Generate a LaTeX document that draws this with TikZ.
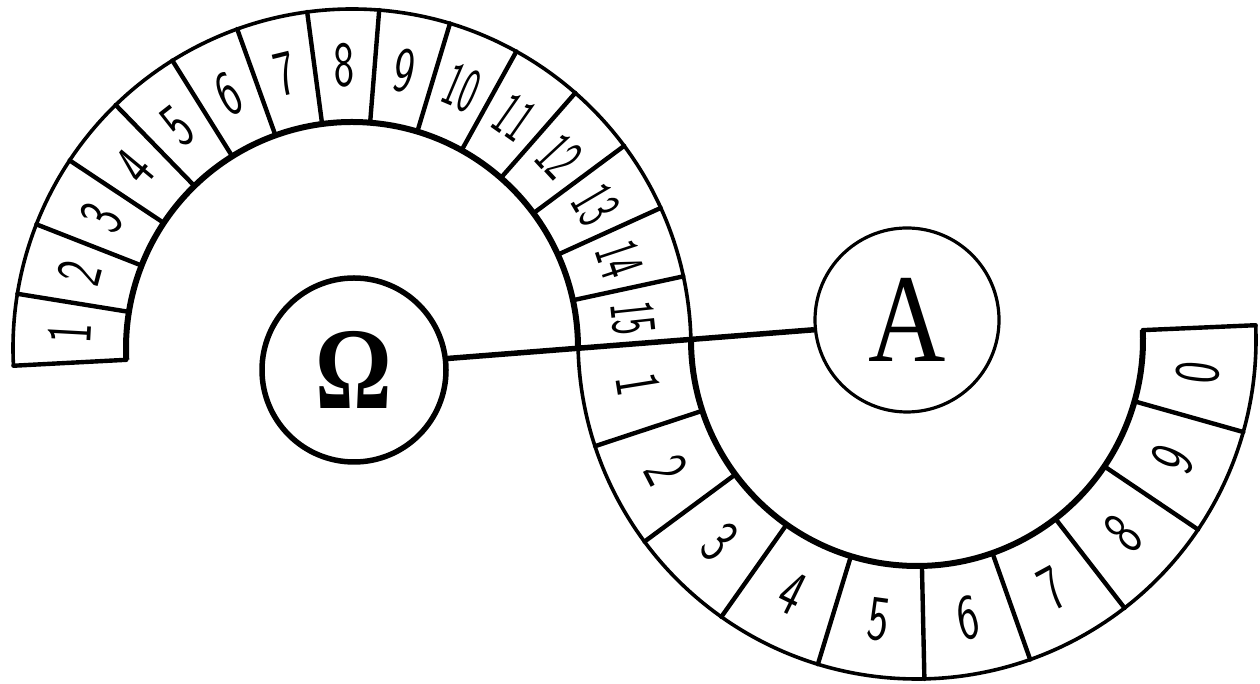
\documentclass[tikz,border=0pt]{standalone}
\usepackage{fontspec}
\newfontfamily\bigserif{Liberation Serif}
\begin{document}
\begin{tikzpicture}[x=1pt,y=1pt,
  outerline/.style={line width=3.6pt},
  innerline/.style={line width=6pt},
  divider/.style={line width=4.4pt, line cap=round},
  digit/.style={font=\sffamily\fontsize{64}{64}\selectfont, inner sep=0pt},
  disc/.style={draw, circle, minimum size=184pt, inner sep=0pt},
  link/.style={line width=5.5pt}
]
\useasboundingbox (0,0) rectangle (1260,684);
\coordinate (U) at (352,336);
\coordinate (L) at (917,344);
% ---------- upper band (1..15)
\draw[outerline] (U) ++(0:339pt) arc[start angle=0, end angle=183, radius=339pt];
\draw[innerline] (U) ++(0:226pt) arc[start angle=0, end angle=183, radius=226pt];
\draw[divider] (U) ++(183:226pt) -- ++(183:113pt);
\foreach \k in {1,...,14}{
  \draw[divider] (U) ++({183-\k*12.2}:226pt) -- ++({183-\k*12.2}:113pt);
}
\foreach \k in {1,...,15}{
  \pgfmathsetmacro\t{183-(\k-0.5)*12.2}
  \ifnum\k<10
    \node[digit, rotate=\t-90] (u\k) at ([shift={(\t:282.5pt)}]U) {\scalebox{0.68}[1]{\k}};
  \else
    \node[digit, rotate=\t-90] (u\k) at ([shift={(\t:282.5pt)}]U) {\scalebox{0.54}[1]{\k}};
  \fi
}
% ---------- lower band (1..9,0)
\draw[outerline] (L) ++(180:339pt) arc[start angle=180, end angle=362.5, radius=339pt];
\draw[innerline] (L) ++(180:226pt) arc[start angle=180, end angle=362.5, radius=226pt];
\draw[divider] (L) ++(362.5:226pt) -- ++(362.5:113pt);
\foreach \k in {1,...,9}{
  \draw[divider] (L) ++({180+\k*18.25}:226pt) -- ++({180+\k*18.25}:113pt);
}
\foreach \k/\lab in {1/1,2/2,3/3,4/4,5/5,6/6,7/7,8/8,9/9,10/0}{
  \pgfmathsetmacro\t{180+(\k-0.5)*18.25}
  \node[digit, rotate=\t+90] (l\k) at ([shift={(\t:282.5pt)}]L) {\scalebox{0.7}[1]{\lab}};
}
% ---------- circles and link
\node[disc, line width=5.5pt] (omega) at (354,314)
  {\bigserif\bfseries\fontsize{104}{104}\selectfont\scalebox{0.92}[1.12]{Ω}};
\node[disc, line width=3.2pt] (alpha) at (907,364)
  {\bigserif\fontsize{126}{126}\selectfont\scalebox{0.85}[1]{A}};
\draw[link] (omega.7) -- (alpha.186);
\end{tikzpicture}
\end{document}
